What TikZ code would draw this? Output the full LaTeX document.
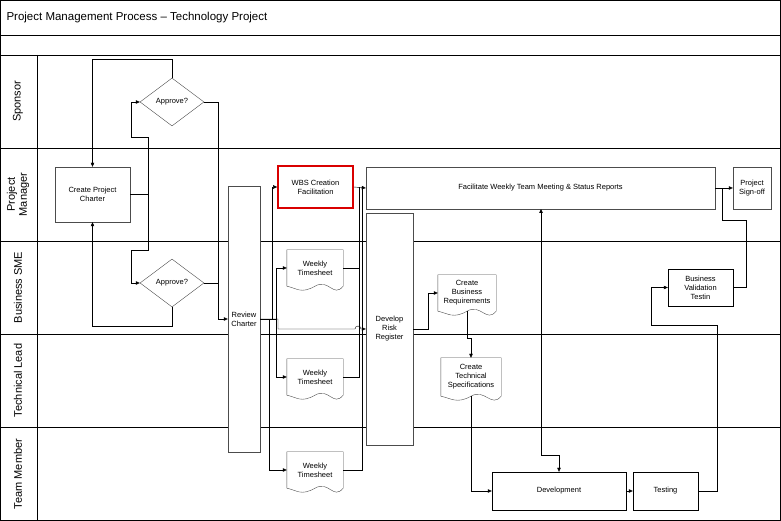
\documentclass[tikz,border=0pt]{standalone}
\usepackage{fontspec}
\setmainfont{Liberation Sans}
\usetikzlibrary{arrows.meta, positioning, shapes.geometric}

\newcommand{\docwave}[1]{%
  \draw[gray!60!black] (#1.north west) -- (#1.north east) -- (#1.south east)
    .. controls +(-10,-12) and +(14,8) .. (#1.south)
    .. controls +(-14,-8) and +(10,-2) .. (#1.south west) -- cycle;}

\begin{document}
\begin{tikzpicture}[
    x=1pt, y=1pt,
    lane/.style={draw=black, thick},
    box/.style={rectangle, draw=gray!60!black, fill=white, align=center, font=\fontsize{7.5}{9}\selectfont, inner sep=1pt},
    docnode/.style={rectangle, draw=none, align=center, font=\fontsize{7.5}{9}\selectfont, inner sep=1pt},
    decision/.style={diamond, draw=gray!60!black, fill=white, aspect=1.35, font=\fontsize{7.5}{9}\selectfont, inner sep=1pt, minimum width=64pt, minimum height=48pt},
    lanelabel/.style={rotate=90, align=center, font=\fontsize{11}{12}\selectfont},
    arr/.style={-{Triangle[length=4pt,width=3.5pt]}},
    ]
    \useasboundingbox (0,0) rectangle (781,521);
    % frame and lanes
    \draw (0.5,0.5) rectangle (780.5,520.5);
    \draw (0,486) -- (781,486);
    \draw[lane] (0,466) -- (781,466);
    \draw[lane] (0,373) -- (781,373);
    \draw[lane] (0,280) -- (781,280);
    \draw[lane] (0,187) -- (781,187);
    \draw[lane] (0,94) -- (781,94);
    \draw (37,466) -- (37,0);
    \node[anchor=west, font=\fontsize{11.5}{13}\selectfont] (title) at (3,503) {Project Management Process -- Technology Project};
    \node[lanelabel] (lsp) at (18,419.5) {Sponsor};
    \node[lanelabel] (lpm) at (18,326.5) {Project\\Manager};
    \node[lanelabel] (lbs) at (18,233.5) {Business SME};
    \node[lanelabel] (ltl) at (18,140.5) {Technical Lead};
    \node[lanelabel] (ltm) at (18,47) {Team Member};

    % nodes
    \node[decision] (ap1) at (172,419) {Approve?};
    \node[decision] (ap2) at (172,238) {Approve?};
    \node[box, minimum width=75pt, minimum height=55pt] (charter) at (92.5,326.5) {Create Project\\Charter};
    \node[box, minimum width=32pt, minimum height=266pt] (review) at (244,202) {Review\\Charter};
    \node[box, draw=red!85!black, line width=1.6pt, minimum width=75pt, minimum height=42pt] (wbs) at (315.5,334) {WBS Creation\\Facilitation};
    \node[box, minimum width=349pt, minimum height=42pt] (facil) at (540.5,333) {Facilitate Weekly Team Meeting \& Status Reports};
    \node[box, minimum width=38pt, minimum height=42pt] (signoff) at (752,333) {Project\\Sign-off};
    \node[box, minimum width=47pt, minimum height=232pt] (risk) at (389.5,192) {Develop\\Risk\\Register};
    \node[docnode, minimum width=56pt, minimum height=36pt] (wt1) at (315,253) {Weekly\\Timesheet};
    \node[docnode, minimum width=56pt, minimum height=36pt] (wt2) at (315,144) {Weekly\\Timesheet};
    \node[docnode, minimum width=56pt, minimum height=36pt] (wt3) at (315,51) {Weekly\\Timesheet};
    \node[docnode, minimum width=58pt, minimum height=36pt] (cbr) at (467,228) {Create\\Business\\Requirements};
    \node[docnode, minimum width=60pt, minimum height=38pt] (cts) at (471,144) {Create\\Technical\\Specifications};
    \docwave{wt1}
    \docwave{wt2}
    \docwave{wt3}
    \docwave{cbr}
    \docwave{cts}
    \node[box, draw=black, minimum width=65pt, minimum height=37pt] (bvt) at (700.5,233.5) {Business\\Validation\\Testin};
    \node[box, draw=black, minimum width=134pt, minimum height=38pt] (dev) at (559,30) {Development};
    \node[box, draw=black, minimum width=65pt, minimum height=38pt] (test) at (665.5,30) {Testing};

    % connectors
    \draw[arr] (ap1.north) -- ++(0,19) -| (charter.north);
    \draw[arr] (charter.east) -| (148,384) -- (131,384) |- (ap1.west);
    \draw[arr] (charter.east) -| (148,271) -- (131,271) |- (ap2.west);
    \draw[arr] (ap1.east) -- (218,419) |- (review.west);
    \draw (ap2.east) -- (218,238);
    \draw[arr] (ap2.south) -- ++(0,-19) -| (charter.south);
    \draw[arr] (review.east) -- (272,202) |- (wbs.west);
    \draw[arr] (review.east) -- (276,202) |- (wt1.west);
    \draw[arr] (review.east) -- (276,202) |- (wt2.west);
    \draw[arr] (review.east) -- (269,202) |- (wt3.west);
    \draw[arr] (review.east) -- (278,202) -- (278,192) -- (355,192) arc (180:0:3) -- (risk.west);
    \draw[arr] (wbs.east) -- (facil.west);
    \draw (wt1.east) -| (359,334);
    \draw (wt2.east) -| (359,334);
    \draw (wt3.east) -| (362,334);
    \draw[arr] (risk.east) -- (428,192) |- (cbr.west);
    \draw[arr] (cbr.south) -- (467,183) -| (cts.north);
    \draw[arr] (cts.south) |- (dev.west);
    \coordinate (dv) at (541,66);
    \draw[arr] (dv) -- (541,312);
    \draw[arr] (dv) -| (dev.north);
    \draw[arr] (dev.east) -- (test.west);
    \draw[arr] (test.east) -- (717,30) |- (651,196) |- (bvt.west);
    \draw (bvt.east) -- (746,233.5) |- (722,301) -- (722,333);
    \draw[arr] (facil.east) -- (signoff.west);
\end{tikzpicture}
\end{document}
